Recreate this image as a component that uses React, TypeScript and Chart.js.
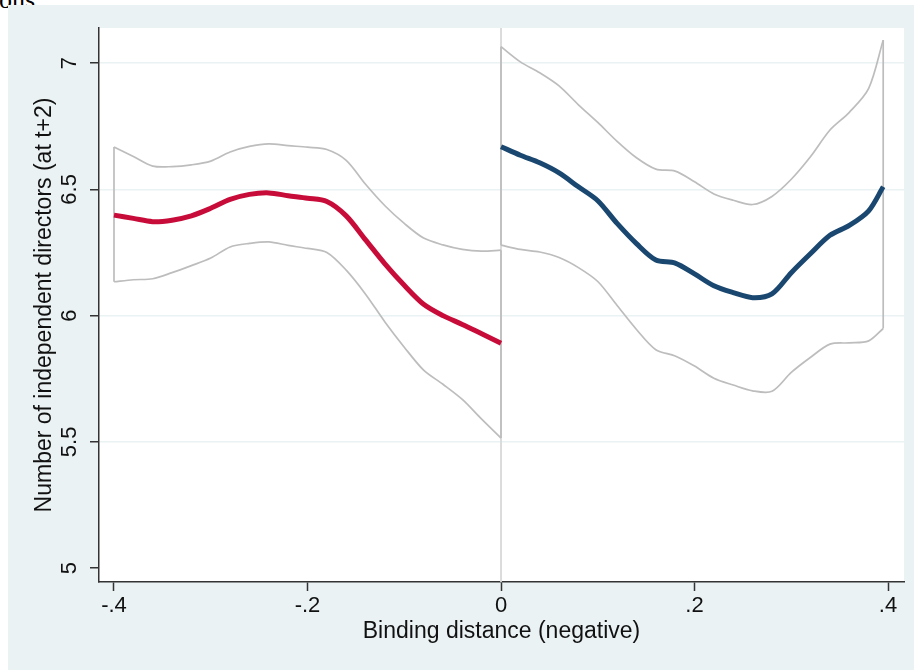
import React, { useEffect, useRef } from "react";
import { Chart, registerables } from "chart.js";

Chart.register(...registerables);

// Axis ticks
const xTicks = [-0.4, -0.2, 0, 0.2, 0.4];
const xTickLabels = ["-.4", "-.2", "0", ".2", ".4"];
const yTicks = [5, 5.5, 6, 6.5, 7];
const yTickLabels = ["5", "5.5", "6", "6.5", "7"];

const xTitle = "Binding distance (negative)";
const yTitle = "Number of independent directors (at t+2)";

// Left of cutoff (x < 0)
const leftX = [-0.4, -0.38, -0.36, -0.34, -0.32, -0.3, -0.28, -0.26, -0.24, -0.22, -0.2, -0.18, -0.16, -0.14, -0.12, -0.1, -0.08, -0.06, -0.04, -0.02, 0.0];
const leftFit = [6.398, 6.385, 6.372, 6.378, 6.395, 6.425, 6.46, 6.48, 6.486, 6.475, 6.465, 6.452, 6.395, 6.3, 6.205, 6.12, 6.045, 6.0, 5.965, 5.928, 5.891];
const leftUpper = [6.668, 6.63, 6.592, 6.59, 6.597, 6.612, 6.648, 6.67, 6.68, 6.673, 6.667, 6.658, 6.615, 6.52, 6.435, 6.365, 6.307, 6.28, 6.262, 6.255, 6.259];
const leftLower = [6.134, 6.142, 6.146, 6.17, 6.198, 6.228, 6.272, 6.286, 6.292, 6.278, 6.266, 6.25, 6.18, 6.085, 5.975, 5.875, 5.784, 5.728, 5.668, 5.59, 5.515];

// Right of cutoff (x >= 0)
const rightX = [0.0, 0.02, 0.04, 0.06, 0.08, 0.1, 0.12, 0.14, 0.16, 0.18, 0.2, 0.22, 0.24, 0.26, 0.28, 0.3, 0.32, 0.34, 0.36, 0.38, 0.395];
const rightFit = [6.669, 6.635, 6.605, 6.565, 6.51, 6.455, 6.365, 6.285, 6.22, 6.208, 6.165, 6.118, 6.091, 6.071, 6.086, 6.17, 6.246, 6.318, 6.357, 6.415, 6.51];
const rightUpper = [7.065, 7.005, 6.962, 6.91, 6.835, 6.765, 6.69, 6.625, 6.58, 6.572, 6.53, 6.482, 6.457, 6.44, 6.472, 6.54, 6.63, 6.735, 6.805, 6.9, 7.091];
const rightLower = [6.279, 6.262, 6.252, 6.23, 6.19, 6.135, 6.04, 5.945, 5.865, 5.84, 5.8, 5.752, 5.725, 5.702, 5.7, 5.775, 5.835, 5.887, 5.892, 5.9, 5.949];

const X_MIN = -0.4155;
const X_MAX = 0.4165;
const Y_MIN = 4.945;
const Y_MAX = 7.139;

const BG = "#EAF2F3";
const FONT = "'Liberation Sans', Arial, Helvetica, sans-serif";
const CI_COLOR = "#BDBDBD";

function pts(xs: number[], ys: number[]) {
  return xs.map((x, i) => ({ x, y: ys[i] }));
}
function cap(xs: number[], up: number[], lo: number[], i: number) {
  return [
    { x: xs[i], y: lo[i] },
    { x: xs[i], y: up[i] },
  ];
}

const bgPlugin = {
  id: "bgPlugin",
  beforeDraw(chart: any) {
    const { ctx, chartArea } = chart;
    ctx.save();
    ctx.fillStyle = BG;
    ctx.fillRect(0, 0, chart.width, chart.height);
    ctx.fillStyle = "#FFFFFF";
    ctx.fillRect(chartArea.left, chartArea.top, chartArea.right - chartArea.left, chartArea.bottom - chartArea.top);
    ctx.restore();
  },
};

function ciLine(label: string, data: { x: number; y: number }[], tension: number) {
  return {
    label,
    data,
    borderColor: CI_COLOR,
    borderWidth: 1.7,
    pointRadius: 0,
    tension,
    order: 1,
  };
}

export default function App() {
  const ref = useRef<HTMLCanvasElement | null>(null);

  useEffect(() => {
    if (!ref.current) return;
    const T = 0.3;
    const chart = new Chart(ref.current, {
      type: "line",
      data: {
        datasets: [
          {
            label: "fitL",
            data: pts(leftX, leftFit),
            borderColor: "#C80C3A",
            borderWidth: 5,
            pointRadius: 0,
            tension: T,
            order: 0,
          },
          {
            label: "fitR",
            data: pts(rightX, rightFit),
            borderColor: "#1A476F",
            borderWidth: 5,
            pointRadius: 0,
            tension: T,
            order: 0,
          },
          ciLine("ciLupper", pts(leftX, leftUpper), T),
          ciLine("ciLlower", pts(leftX, leftLower), T),
          ciLine("ciLstart", cap(leftX, leftUpper, leftLower, 0), 0),
          ciLine("ciLend", cap(leftX, leftUpper, leftLower, leftX.length - 1), 0),
          ciLine("ciRupper", pts(rightX, rightUpper), T),
          ciLine("ciRlower", pts(rightX, rightLower), T),
          ciLine("ciRstart", cap(rightX, rightUpper, rightLower, 0), 0),
          ciLine("ciRend", cap(rightX, rightUpper, rightLower, rightX.length - 1), 0),
          {
            label: "xline",
            data: [
              { x: 0, y: Y_MIN },
              { x: 0, y: Y_MAX },
            ],
            borderColor: "#D8D8D8",
            borderWidth: 1.8,
            pointRadius: 0,
            order: 2,
          },
        ],
      },
      options: {
        responsive: false,
        animation: false,
        devicePixelRatio: 1,
        layout: { padding: { top: 23, right: 10, left: 0, bottom: 0 } },
        plugins: {
          legend: { display: false },
          tooltip: { enabled: false },
        },
        scales: {
          x: {
            type: "linear",
            min: X_MIN,
            max: X_MAX,
            afterBuildTicks: (scale: any) => {
              scale.ticks = xTicks.map((v) => ({ value: v }));
            },
            afterFit: (scale: any) => {
              scale.height = 88;
            },
            ticks: {
              autoSkip: false,
              maxRotation: 0,
              minRotation: 0,
              padding: 2,
              color: "#111",
              font: { family: FONT, size: 22 },
              callback: (_v: any, i: number) => xTickLabels[i],
            },
            grid: {
              drawOnChartArea: false,
              drawTicks: true,
              tickLength: 9,
              tickColor: "#333",
              tickWidth: 1.5,
            },
            border: { display: true, color: "#333", width: 1.5 },
            title: {
              display: true,
              text: xTitle,
              color: "#111",
              font: { family: FONT, size: 23 },
              padding: { top: 0, bottom: 25 },
            },
          },
          y: {
            type: "linear",
            min: Y_MIN,
            max: Y_MAX,
            afterBuildTicks: (scale: any) => {
              scale.ticks = yTicks.map((v) => ({ value: v }));
            },
            afterFit: (scale: any) => {
              scale.width = 91;
            },
            ticks: {
              autoSkip: false,
              minRotation: 90,
              maxRotation: 90,
              crossAlign: "center",
              padding: 5,
              color: "#111",
              font: { family: FONT, size: 22 },
              callback: (_v: any, i: number) => yTickLabels[i],
            },
            grid: {
              drawOnChartArea: true,
              color: (ctx: any) => (ctx.tick && ctx.tick.value === 5 ? "rgba(0,0,0,0)" : BG),
              lineWidth: 1.5,
              drawTicks: true,
              tickLength: 9,
              tickColor: "#333",
              tickWidth: 1.5,
            },
            border: { display: true, color: "#333", width: 1.5 },
            title: {
              display: true,
              text: yTitle,
              color: "#111",
              font: { family: FONT, size: 23 },
              padding: { top: 23, bottom: 0 },
            },
          },
        },
      },
      plugins: [bgPlugin],
    } as any);
    return () => chart.destroy();
  }, []);

  return (
    <div style={{ position: "absolute", left: 0, top: 0, width: 914, height: 671, overflow: "hidden", background: "#fff" }}>
      <div
        style={{
          position: "absolute",
          left: -1,
          top: -13,
          fontFamily: "'Liberation Serif', 'DejaVu Serif', serif",
          fontSize: 26,
          lineHeight: "26px",
          color: "#000",
          whiteSpace: "nowrap",
        }}
      >
        ons
      </div>
      <div style={{ position: "absolute", left: 8, top: 5, width: 906, height: 665, background: BG }}>
        <canvas ref={ref} width={906} height={665} style={{ display: "block", width: 906, height: 665 }} />
      </div>
    </div>
  );
}
